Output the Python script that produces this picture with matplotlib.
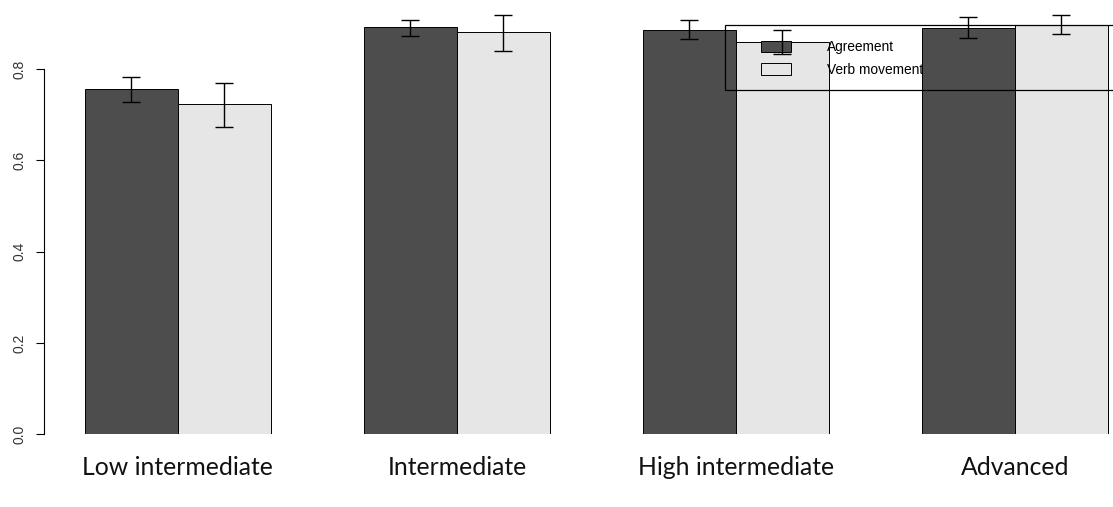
import numpy as np
import matplotlib
matplotlib.use("Agg")
import matplotlib.pyplot as plt
from matplotlib.patches import Patch, Rectangle

levels = ["Low intermediate", "Intermediate", "High intermediate", "Advanced"]
series = ["Agreement", "Verb movement"]

agreement = [0.756, 0.892, 0.886, 0.890]
agreement_lo = [0.729, 0.873, 0.867, 0.869]
agreement_hi = [0.784, 0.909, 0.908, 0.914]

verb = [0.723, 0.881, 0.859, 0.897]
verb_lo = [0.674, 0.841, 0.833, 0.878]
verb_hi = [0.771, 0.920, 0.886, 0.918]

dark = "#4d4d4d"
light = "#e6e6e6"

W, H = 1113, 507
fig = plt.figure(figsize=(W / 100, H / 100), dpi=100)
ax = fig.add_axes([44 / W, 73 / H, 1 - 44 / W, 1 - 73 / H])

# barplot(beside=TRUE) layout: bar width 1, one empty slot between groups
grp = np.arange(len(levels)) * 3
x_a = grp + 1.5
x_v = grp + 2.5

ax.bar(x_a, agreement, width=1, color=dark, edgecolor="black", linewidth=0.7, zorder=2)
ax.bar(x_v, verb, width=1, color=light, edgecolor="black", linewidth=0.7, zorder=2)

for xs, h, lo, hi in [(x_a, agreement, agreement_lo, agreement_hi),
                      (x_v, verb, verb_lo, verb_hi)]:
    h = np.array(h)
    err = [h - np.array(lo), np.array(hi) - h]
    ax.errorbar(xs, h, yerr=err, fmt="none", ecolor="black", elinewidth=1.0,
                capsize=6.5, capthick=1.0, zorder=7)

ax.set_xlim(0.56, 0.56 + (W - 44) / 93)
ax.set_ylim(0, 434 / 455.9)

for s in ["top", "right", "bottom"]:
    ax.spines[s].set_visible(False)
ax.spines["left"].set_bounds(0, 0.8)
ax.spines["left"].set_linewidth(0.8)

ax.set_yticks([0.0, 0.2, 0.4, 0.6, 0.8])
ax.set_yticklabels(["0.0", "0.2", "0.4", "0.6", "0.8"], rotation=90, va="center",
                   fontsize=10, family="Liberation Sans", color="#333333")
ax.tick_params(axis="y", length=5.8, width=0.8, pad=7)

ax.set_xticks(grp + 2)
ax.set_xticklabels(levels, fontsize=17.8, family="Lato", color="#111111")
ax.tick_params(axis="x", length=0, pad=16)

handles = [Patch(facecolor=dark, edgecolor="black", linewidth=0.7),
           Patch(facecolor=light, edgecolor="black", linewidth=0.7)]
leg = ax.legend(handles, series, loc="upper left",
                bbox_to_anchor=(761 / W, 1 - 40.5 / H), bbox_transform=fig.transFigure,
                frameon=False, borderpad=0, borderaxespad=0,
                handlelength=2.2, handleheight=0.88, handletextpad=2.6,
                labelspacing=0.6, prop={"family": "Liberation Sans", "size": 9.9})
leg.set_zorder(6)

# legend border runs past the right edge of the plot
ax.add_patch(Rectangle((725 / W, 1 - 90 / H), 460 / W, 65 / H, transform=fig.transFigure,
                       fill=False, edgecolor="black", linewidth=0.9, clip_on=False, zorder=6))

fig.savefig("out.png", dpi=100)
